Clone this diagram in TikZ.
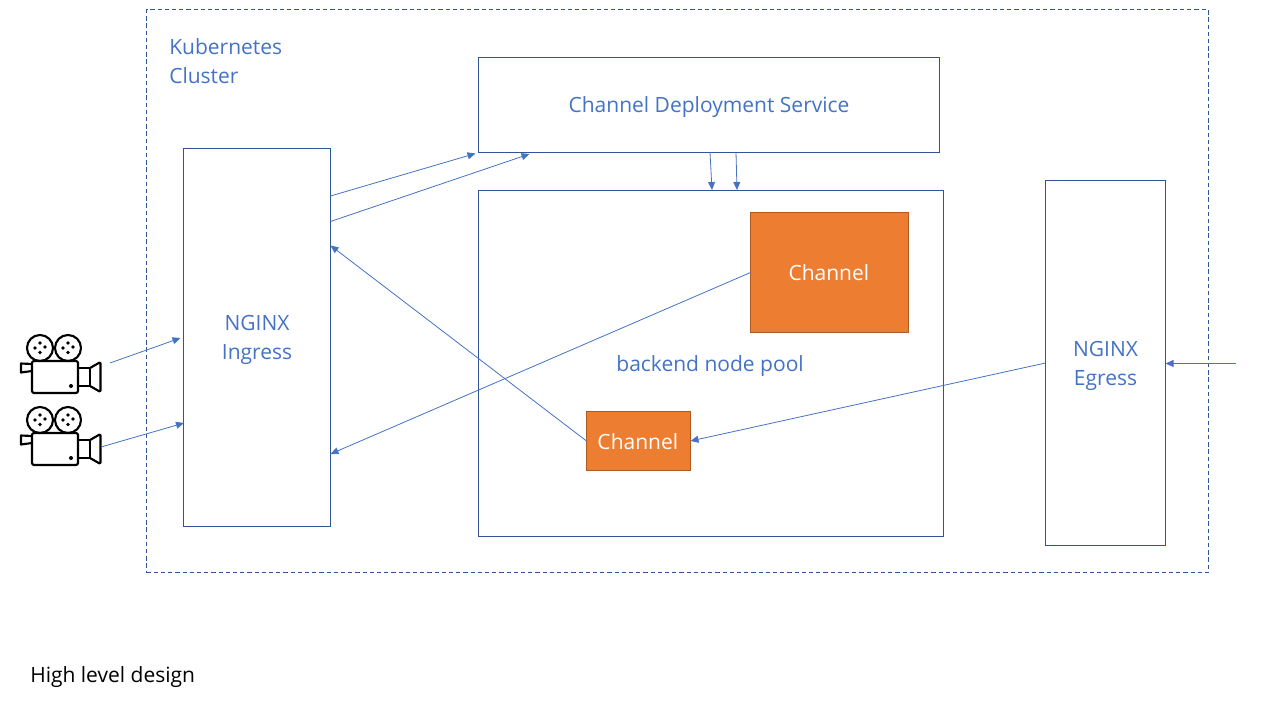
\documentclass[tikz,border=0pt]{standalone}
\usepackage{fontspec}
\setmainfont{Open Sans}
\usetikzlibrary{arrows.meta}
\definecolor{txtblue}{HTML}{4472C4}
\definecolor{boxblue}{HTML}{2F5597}
\definecolor{orangefill}{HTML}{ED7D31}
\definecolor{orangeline}{HTML}{AE5A21}
\tikzset{
  px/.style={font=\fontsize{15.75pt}{21.75pt}\selectfont},
  bluebox/.style={draw=boxblue,line width=0.75pt,outer sep=0pt,inner sep=0pt},
  bluetext/.style={inner sep=0pt,text=txtblue,align=center,px,yshift=-1.9pt},
  orangebox/.style={draw=orangeline,line width=0.75pt,outer sep=0pt,fill=orangefill,inner sep=0pt},
  orangetext/.style={inner sep=0pt,text=white,px,yshift=-0.4pt,xshift=-0.5pt},
  conn/.style={draw=txtblue,line width=0.6pt,-{Triangle[length=6pt,width=5.2pt]}},
  camline/.style={draw=black,line width=1.6pt,line join=round}
}
\begin{document}
\begin{tikzpicture}[x=0.75pt,y=-0.75pt,
  campic/.pic={
    \draw[camline] (40,348) circle (13);
    \draw[camline] (68,348) circle (13);
    \foreach \c in {40,68}{
      \fill (\c-5,348) circle (1.9);
      \fill (\c+5,347) circle (1.9);
      \fill (\c,343) circle (1.9);
      \fill (\c,352.5) circle (1.9);
    }
    \draw[camline,rounded corners=1.5] (32,361) rectangle (78,393);
    \draw[camline] (78,368) -- (90,368) -- (90,386) -- (78,386);
    \draw[camline,rounded corners=1] (90,368) -- (100.5,362) -- (100.5,392) -- (90,386);
    \draw[camline] (32,364) -- (21,363.5) -- (21,372.5) -- (32,371);
    \fill (71,386) circle (2);
  }]
\useasboundingbox (0,0) rectangle (1280,720);
\node[draw=boxblue,line width=0.75pt,outer sep=0pt,dashed,dash pattern=on 3.2pt off 2.2pt,minimum width=1062*0.75pt,minimum height=562.5*0.75pt,inner sep=0pt] (cluster) at (677.5,291.25) {};
\node[anchor=north west,inner sep=0pt,text=txtblue,align=left,px] (kube) at (169,38) {Kubernetes\\Cluster};
\node[bluebox,minimum width=147*0.75pt,minimum height=378*0.75pt,label={[bluetext]center:{NGINX\\Ingress}}] (ingress) at (257,337.5) {};
\node[bluebox,minimum width=461*0.75pt,minimum height=95*0.75pt,label={[bluetext]center:{Channel Deployment Service}}] (cds) at (709,105) {};
\node[bluebox,minimum width=465*0.75pt,minimum height=346*0.75pt,label={[bluetext,xshift=-0.7pt]center:{backend node pool}}] (pool) at (711,363.5) {};
\node[bluebox,minimum width=120*0.75pt,minimum height=365*0.75pt,label={[bluetext]center:{NGINX\\Egress}}] (egress) at (1105.5,363) {};
\node[orangebox,minimum width=158*0.75pt,minimum height=120*0.75pt,label={[orangetext]center:{Channel}}] (chanA) at (829.5,272.5) {};
\node[orangebox,minimum width=104*0.75pt,minimum height=59*0.75pt,label={[orangetext]center:{Channel}}] (chanB) at (638.5,441) {};
\node[anchor=west,inner sep=0pt,text=black,px] (title) at (30,677) {High level design};
\pic (camA) at (0,0) {campic};
\pic (camB) at (0,72) {campic};
\coordinate (camAout) at (110,363);
\coordinate (camBout) at (101,447);
\coordinate (egressin) at (1236,363.5);
\draw[conn] (camAout) -- ([shift={(-3,189.5)}]ingress.north west);
\draw[conn] (camBout) -- ([shift={(0.5,274.5)}]ingress.north west);
\draw[conn] ([shift={(0,47.5)}]ingress.north east) -- ([shift={(-3,1)}]cds.south west);
\draw[conn] ([shift={(0,73)}]ingress.north east) -- ([shift={(51,1.5)}]cds.south west);
\draw[conn] ([shift={(231.5,0)}]cds.south west) -- ([shift={(233.5,-0.5)}]pool.north west);
\draw[conn] ([shift={(257.5,0)}]cds.south west) -- ([shift={(258.5,-0.5)}]pool.north west);
\draw[conn] (chanB.west) -- ([shift={(0,97)}]ingress.north east);
\draw[conn] (chanA.west) -- ([shift={(0,305.5)}]ingress.north east);
\draw[conn] (egress.west) -- (chanB.east);
\draw[conn] (egressin) -- ([shift={(0,0.5)}]egress.east);
\end{tikzpicture}
\end{document}
